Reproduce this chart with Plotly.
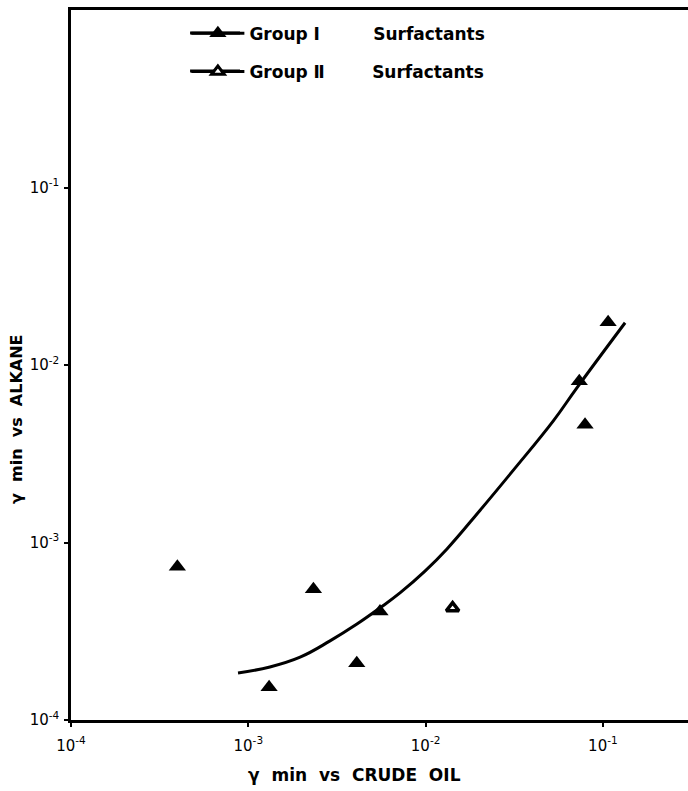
import plotly.graph_objects as go

# ---- data ----
group1_x = [3.98e-4, 1.31e-3, 2.33e-3, 4.09e-3, 5.53e-3, 7.36e-2, 7.93e-2, 1.07e-1]
group1_y = [7.30e-4, 1.53e-4, 5.46e-4, 2.09e-4, 4.08e-4, 8.09e-3, 4.61e-3, 1.74e-2]

group2_x = [1.42e-2]
group2_y = [4.27e-4]

curve_x = [8.75e-4, 1.324e-3, 1.96e-3, 2.89e-3, 4.10e-3, 5.53e-3, 7.17e-3,
           9.92e-3, 1.32e-2, 2.03e-2, 3.11e-2, 5.24e-2, 7.15e-2, 1.334e-1]
curve_y = [1.84e-4, 1.99e-4, 2.26e-4, 2.79e-4, 3.47e-4, 4.28e-4, 5.20e-4,
           6.90e-4, 9.20e-4, 1.52e-3, 2.54e-3, 4.83e-3, 7.46e-3, 1.73e-2]

tick_vals = [1e-4, 1e-3, 1e-2, 1e-1]
tick_text = ["10<sup>-4</sup>", "10<sup>-3</sup>", "10<sup>-2</sup>", "10<sup>-1</sup>"]

NB = "\u00a0"
legend1_name = "Group \u2160" + NB * 9 + "Surfactants"
legend2_name = "Group \u2161" + NB * 8 + "Surfactants"
x_title = "\u03b3" + NB * 2 + "min" + NB * 2 + "vs" + NB * 2 + "CRUDE" + NB * 2 + "OIL"
y_title = "\u03b3" + NB * 2 + "min" + NB * 2 + "vs" + NB * 2 + "ALKANE"

FONT = "DejaVu Sans"

fig = go.Figure()

fig.add_trace(go.Scatter(
    x=curve_x, y=curve_y, mode="lines",
    line=dict(color="black", width=3, shape="spline", smoothing=1.2),
    showlegend=False, hoverinfo="skip"))

fig.add_trace(go.Scatter(
    x=group1_x, y=group1_y, mode="markers",
    marker=dict(symbol="triangle-up", size=15, color="black"),
    showlegend=False))

fig.add_trace(go.Scatter(
    x=group2_x, y=group2_y, mode="markers",
    marker=dict(symbol="triangle-up", size=11, color="white",
                line=dict(color="black", width=3.5)),
    showlegend=False))

# legend entries
fig.add_trace(go.Scatter(
    x=[None], y=[None], mode="lines+markers", name=legend1_name,
    line=dict(color="black", width=3),
    marker=dict(symbol="triangle-up", size=15, color="black"),
    legend="legend"))
fig.add_trace(go.Scatter(
    x=[None], y=[None], mode="lines+markers", name=legend2_name,
    line=dict(color="black", width=3),
    marker=dict(symbol="triangle-up", size=11, color="white",
                line=dict(color="black", width=3)),
    legend="legend2"))

axis_common = dict(
    type="log", showgrid=False, zeroline=False,
    showline=True, linecolor="black", linewidth=2.5,
    ticks="outside", ticklen=4, tickwidth=1.5, tickcolor="black",
    tickvals=tick_vals, ticktext=tick_text,
    tickfont=dict(family=FONT, size=15, color="black"),
)

legend_font = dict(family=FONT, size=17, color="black", weight="bold")

fig.update_layout(
    width=688, height=791,
    margin=dict(l=71, r=0, t=10, b=71),
    paper_bgcolor="white", plot_bgcolor="white",
    xaxis=dict(**axis_common, range=[-4, -0.52], mirror=True, ticklabelstandoff=6),
    yaxis=dict(**axis_common, range=[-4, 0], ticklabelstandoff=2),
    legend=dict(x=0.187, y=0.992, xanchor="left", yanchor="top",
                font=legend_font, bgcolor="rgba(0,0,0,0)", itemwidth=53),
    legend2=dict(x=0.187, y=0.938, xanchor="left", yanchor="top",
                 font=legend_font, bgcolor="rgba(0,0,0,0)", itemwidth=53),
    shapes=[
        dict(type="line", xref="paper", yref="paper",
             x0=0.193, x1=0.274, y0=0.9676, y1=0.9676,
             line=dict(color="black", width=3)),
        dict(type="line", xref="paper", yref="paper",
             x0=0.193, x1=0.274, y0=0.914, y1=0.914,
             line=dict(color="black", width=3)),
    ],
    annotations=[
        dict(text=x_title, xref="paper", yref="paper",
             x=0.46, y=-0.0775, xanchor="center", yanchor="middle",
             showarrow=False,
             font=dict(family=FONT, size=17, color="black", weight="bold")),
        dict(text=y_title, xref="paper", yref="paper",
             x=-0.0875, y=0.424, xanchor="center", yanchor="middle",
             textangle=-90, showarrow=False,
             font=dict(family=FONT, size=16, color="black", weight="bold")),
    ],
)

fig.write_html("out.html")
